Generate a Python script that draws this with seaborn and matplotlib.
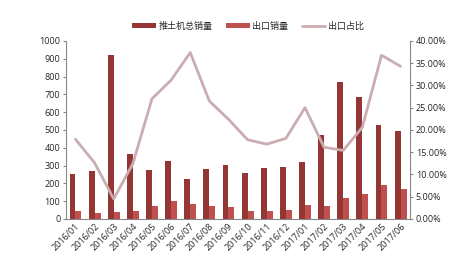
import matplotlib
matplotlib.use("Agg")
import matplotlib.pyplot as plt
import seaborn as sns
import pandas as pd
from matplotlib.ticker import FuncFormatter, MultipleLocator
from matplotlib.patches import Patch
from matplotlib.lines import Line2D

months = ["2016/01", "2016/02", "2016/03", "2016/04", "2016/05", "2016/06",
          "2016/07", "2016/08", "2016/09", "2016/10", "2016/11", "2016/12",
          "2017/01", "2017/02", "2017/03", "2017/04", "2017/05", "2017/06"]
total_sales = [253, 270, 921, 365, 275, 326, 225, 281, 303, 258, 287, 292,
               320, 472, 770, 685, 528, 494]
export_sales = [45, 34, 39, 45, 73, 101, 84, 73, 67, 45, 45, 51,
                79, 73, 118, 140, 191, 169]
export_ratio = [17.9, 12.6, 4.5, 12.4, 27.0, 31.2, 37.4, 26.5, 22.4, 17.8, 16.8, 18.1,
                25.0, 16.1, 15.4, 20.6, 36.8, 34.3]

name_total = "推土机总销量"
name_export = "出口销量"
name_ratio = "出口占比"

sns.set_style("white")
plt.rcParams['font.family'] = ['Open Sans', 'Noto Sans CJK SC', 'DejaVu Sans']

c_total = "#943634"
c_export = "#C0504D"
c_line = "#CBADB1"

df = pd.DataFrame({
    "month": months * 2,
    "value": total_sales + export_sales,
    "series": [name_total] * len(months) + [name_export] * len(months),
})

fig = plt.figure(figsize=(4.64, 2.75), dpi=100)
ax = fig.add_axes([0.142, 0.204, 0.742, 0.647])
sns.barplot(data=df, x="month", y="value", hue="series", order=months,
            hue_order=[name_total, name_export],
            palette=[c_total, c_export], width=0.62, ax=ax, legend=False,
            saturation=1, linewidth=0)
ax.set_ylim(0, 1000)
ax.set_xlim(-0.5, len(months) - 0.5)
ax.yaxis.set_major_locator(MultipleLocator(100))
ax.set_xlabel("")
ax.set_ylabel("")
ax.tick_params(axis='y', labelsize=6.5, length=2, color="#888888", pad=2)
ax.tick_params(axis='x', labelsize=6.5, length=0, pad=2)
for lab in ax.get_xticklabels():
    lab.set_rotation(45)
    lab.set_ha("right")
    lab.set_rotation_mode("anchor")

ax2 = ax.twinx()
sns.lineplot(x=list(range(len(months))), y=export_ratio, ax=ax2, color=c_line,
             linewidth=2.0, legend=False)
ax2.set_ylim(0, 40)
ax2.yaxis.set_major_locator(MultipleLocator(5))
ax2.yaxis.set_major_formatter(FuncFormatter(lambda v, p: f"{v:.2f}%"))
ax2.tick_params(axis='y', labelsize=6.5, length=2, color="#888888", pad=2)
ax2.set_ylabel("")

for a in (ax, ax2):
    a.spines['top'].set_visible(False)
    for s in ('left', 'right', 'bottom'):
        a.spines[s].set_color("#888888")
        a.spines[s].set_linewidth(0.8)
ax.spines['right'].set_visible(False)
ax2.spines['left'].set_visible(False)
ax2.spines['bottom'].set_visible(False)

handles = [Patch(facecolor=c_total, edgecolor='none'),
           Patch(facecolor=c_export, edgecolor='none'),
           Line2D([0], [0], color=c_line, linewidth=2.0)]
fig.legend(handles, [name_total, name_export, name_ratio], loc="center",
           bbox_to_anchor=(0.535, 0.905), ncol=3, frameon=False, fontsize=6.5,
           handlelength=2.6, handleheight=0.5, columnspacing=1.5, handletextpad=0.3)

fig.savefig("out.png", dpi=100)
